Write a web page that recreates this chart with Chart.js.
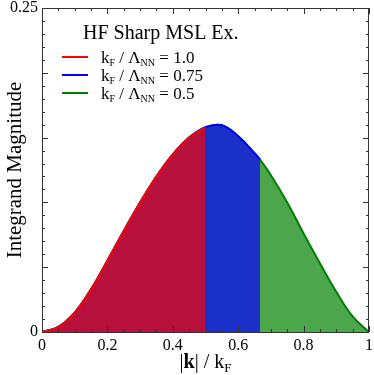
<!DOCTYPE html>
<html lang="en">
<head>
    <meta charset="UTF-8">
    <title>HF Sharp MSL Ex.</title>
    <style>
        html, body { margin: 0; padding: 0; background: #fff; }
        .wrap { width: 374px; height: 375px; }
    </style>
</head>
<body>
    <div class="wrap">
        <canvas id="integrandChart" width="374" height="375"></canvas>
    </div>

    <script src="https://cdn.jsdelivr.net/npm/chart.js"></script>
    <script>
        // |k| / kF grid and integrand
        const kGrid = [0, 0.05, 0.10, 0.15, 0.20, 0.25, 0.30, 0.35, 0.40, 0.45, 0.50,
                       0.55, 0.60, 0.65, 0.6667, 0.70, 0.75, 0.80, 0.85, 0.90, 0.95, 1.0];
        const integrand = [0, 0.004, 0.015, 0.033, 0.055, 0.078, 0.100, 0.120, 0.137, 0.150, 0.158,
                           0.1595, 0.151, 0.138, 0.133, 0.121, 0.100, 0.076, 0.053, 0.031, 0.012, 0];

        // kF / Lambda_NN values and where each fill stops on the k axis
        const ratioLabels = ['1.0', '0.75', '0.5'];
        const cutoffs = [0.5, 0.6667, 1.0];
        const lineColors = ['#ff0000', '#0000ff', '#008000'];
        const fillColors = ['#b8103c', '#1b30c8', '#4ca64c'];

        const xTicks = [0, 0.2, 0.4, 0.6, 0.8, 1];
        const yTicks = [0, 0.25];

        const serif = '"Liberation Serif", "DejaVu Serif", serif';

        function pointsUpTo(cut) {
            const pts = [];
            kGrid.forEach((k, i) => {
                if (k <= cut + 1e-9) pts.push({ x: k, y: integrand[i] });
            });
            return pts;
        }

        const datasets = cutoffs.map((cut, i) => ({
            label: 'kF / ΛNN = ' + ratioLabels[i],
            data: pointsUpTo(cut),
            borderColor: lineColors[i],
            backgroundColor: fillColors[i],
            borderWidth: 2,
            fill: 'origin',
            pointRadius: 0,
            tension: 0.4
        }));

        // blue edge at the 0.75 cutoff
        const blueEnd = pointsUpTo(cutoffs[1]).slice(-1)[0];
        datasets.push({
            label: 'edge',
            data: [{ x: blueEnd.x, y: blueEnd.y }, { x: blueEnd.x, y: 0 }],
            borderColor: lineColors[1],
            borderWidth: 2,
            fill: false,
            pointRadius: 0
        });

        // inside ticks, frame, axis titles and legend
        const decorPlugin = {
            id: 'decor',
            afterDraw(chart) {
                const c = chart.ctx;
                const a = chart.chartArea;
                const xs = chart.scales.x;
                const ys = chart.scales.y;
                c.save();
                c.strokeStyle = '#333';
                c.lineWidth = 1;

                // x ticks, every 0.05, major at 0.2
                for (let i = 0; i <= 20; i++) {
                    const v = i * 0.05;
                    const px = Math.round(xs.getPixelForValue(v)) + 0.5;
                    const len = (i % 4 === 0) ? 6 : 3;
                    c.beginPath();
                    c.moveTo(px, a.bottom); c.lineTo(px, a.bottom - len);
                    c.moveTo(px, a.top); c.lineTo(px, a.top + len);
                    c.stroke();
                }
                // y ticks, every 0.01, major at 0.05
                for (let i = 0; i <= 25; i++) {
                    const v = i * 0.01;
                    const py = Math.round(ys.getPixelForValue(v)) + 0.5;
                    const len = (i % 5 === 0) ? 6 : 3;
                    c.beginPath();
                    c.moveTo(a.left, py); c.lineTo(a.left + len, py);
                    c.moveTo(a.right, py); c.lineTo(a.right - len, py);
                    c.stroke();
                }
                c.strokeRect(a.left + 0.5, a.top + 0.5, a.right - a.left - 1, a.bottom - a.top);

                c.fillStyle = '#000';
                // y title
                c.save();
                c.translate(15, (a.top + a.bottom) / 2);
                c.rotate(-Math.PI / 2);
                c.font = '21px ' + serif;
                c.textAlign = 'center';
                c.textBaseline = 'middle';
                c.fillText('Integrand Magnitude', 0, 0);
                c.restore();

                // x title: |k| / kF
                c.textBaseline = 'alphabetic';
                c.textAlign = 'left';
                const parts = [
                    { t: '|', f: '20px ' + serif, dy: 0 },
                    { t: 'k', f: 'bold 20px ' + serif, dy: 0 },
                    { t: '| / k', f: '20px ' + serif, dy: 0 },
                    { t: 'F', f: '13px ' + serif, dy: 4 }
                ];
                let w = 0;
                parts.forEach(p => { c.font = p.f; w += c.measureText(p.t).width; });
                let x = (a.left + a.right) / 2 - w / 2;
                parts.forEach(p => {
                    c.font = p.f;
                    c.fillText(p.t, x, 368 + p.dy);
                    x += c.measureText(p.t).width;
                });

                // legend
                c.font = '20px ' + serif;
                c.fillText('HF Sharp MSL Ex.', 83, 39);
                const rowY = [57, 75, 93];
                ratioLabels.forEach((r, i) => {
                    c.strokeStyle = lineColors[i];
                    c.lineWidth = 2;
                    c.beginPath();
                    c.moveTo(62, rowY[i]); c.lineTo(88, rowY[i]);
                    c.stroke();
                    const bits = [
                        { t: 'k', f: '17px ' + serif, dy: 0 },
                        { t: 'F', f: '10px ' + serif, dy: 3 },
                        { t: ' / Λ', f: '17px ' + serif, dy: 0 },
                        { t: 'NN', f: '10px ' + serif, dy: 3 },
                        { t: ' = ' + r, f: '17px ' + serif, dy: 0 }
                    ];
                    let bx = 101;
                    bits.forEach(b => {
                        c.font = b.f;
                        c.fillText(b.t, bx, rowY[i] + 6 + b.dy);
                        bx += c.measureText(b.t).width;
                    });
                });
                c.restore();
            }
        };

        const ctx = document.getElementById('integrandChart').getContext('2d');
        new Chart(ctx, {
            type: 'line',
            data: { datasets: datasets },
            options: {
                responsive: false,
                animation: false,
                layout: { autoPadding: false, padding: { top: 8, right: 5, left: 0, bottom: 0 } },
                plugins: { legend: { display: false }, tooltip: { enabled: false } },
                scales: {
                    x: {
                        type: 'linear',
                        min: 0, max: 1,
                        grid: { display: false, drawTicks: false },
                        border: { display: false },
                        afterBuildTicks: s => { s.ticks = xTicks.map(v => ({ value: v })); },
                        afterFit: s => { s.height = 43; s.paddingLeft = 0; s.paddingRight = 0; },
                        ticks: {
                            padding: 4,
                            color: '#000',
                            font: { family: serif, size: 16 },
                            maxRotation: 0,
                            callback: v => String(v)
                        }
                    },
                    y: {
                        type: 'linear',
                        min: 0, max: 0.25,
                        grid: { display: false, drawTicks: false },
                        border: { display: false },
                        afterBuildTicks: s => { s.ticks = yTicks.map(v => ({ value: v })); },
                        afterFit: s => { s.width = 42; s.paddingTop = 0; s.paddingBottom = 0; },
                        ticks: {
                            padding: 4,
                            color: '#000',
                            font: { family: serif, size: 16 },
                            callback: v => String(v)
                        }
                    }
                }
            },
            plugins: [decorPlugin]
        });
    </script>
</body>
</html>
